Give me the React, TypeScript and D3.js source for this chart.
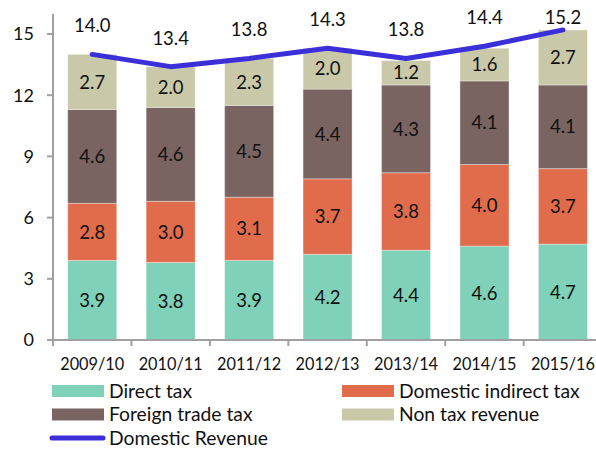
import React from "react";
import * as d3 from "d3";

const categories = ["2009/10", "2010/11", "2011/12", "2012/13", "2013/14", "2014/15", "2015/16"];
const directTax = [3.9, 3.8, 3.9, 4.2, 4.4, 4.6, 4.7];
const domesticIndirectTax = [2.8, 3.0, 3.1, 3.7, 3.8, 4.0, 3.7];
const foreignTradeTax = [4.6, 4.6, 4.5, 4.4, 4.3, 4.1, 4.1];
const nonTaxRevenue = [2.7, 2.0, 2.3, 2.0, 1.2, 1.6, 2.7];
const domesticRevenue = [14.0, 13.4, 13.8, 14.3, 13.8, 14.4, 15.2];
const yTicks = [0, 3, 6, 9, 12, 15];

const seriesNames = ["Direct tax", "Domestic indirect tax", "Foreign trade tax", "Non tax revenue"];
const seriesColors = ["#7fd1b9", "#e06c4c", "#7a6462", "#c9c9aa"];
const lineName = "Domestic Revenue";
const lineColor = "#3a2fd8";

const W = 596;
const H = 451;
const FONT = "Lato, 'Open Sans', sans-serif";

export default function App() {
  const x = d3.scaleBand<string>().domain(categories).range([53, 53 + 78.45 * 7]).paddingInner(0.375).paddingOuter(0.1875);
  const y = d3.scaleLinear().domain([0, 15]).range([340, 34]);

  const rows = categories.map((c, i) => ({
    cat: c,
    s0: directTax[i],
    s1: domesticIndirectTax[i],
    s2: foreignTradeTax[i],
    s3: nonTaxRevenue[i],
  }));
  const stack = d3.stack<any>().keys(["s0", "s1", "s2", "s3"]);
  const layers = stack(rows);

  const line = d3
    .line<number>()
    .x((_, i) => (x(categories[i]) as number) + x.bandwidth() / 2)
    .y((d) => y(d));

  const step = x.step();
  const boundaries = d3.range(categories.length + 1).map((i) => 53 + i * step);

  return (
    <svg width={W} height={H} style={{ position: "absolute", left: 0, top: 0, background: "#fff" }} fontFamily={FONT}>
      {/* bars */}
      {layers.map((layer, li) => (
        <g key={li}>
          {layer.map((d, i) => (
            <rect
              key={i}
              x={x(categories[i])}
              y={y(d[1])}
              width={x.bandwidth()}
              height={y(d[0]) - y(d[1])}
              fill={seriesColors[li]}
              stroke="#ffffff"
              strokeOpacity={0.35}
              strokeWidth={1}
            />
          ))}
        </g>
      ))}
      {/* segment labels */}
      {layers.map((layer, li) => (
        <g key={"l" + li}>
          {layer.map((d, i) => (
            <text
              key={i}
              x={(x(categories[i]) as number) + x.bandwidth() / 2}
              y={(y(d[0]) + y(d[1])) / 2}
              dy="0.36em"
              textAnchor="middle"
              fontSize={18.5}
              fill="#111"
            >
              {(d[1] - d[0]).toFixed(1)}
            </text>
          ))}
        </g>
      ))}
      {/* axes */}
      <line x1={53} x2={53} y1={14} y2={341} stroke="#a0a0a0" strokeWidth={2} />
      <line x1={52} x2={W} y1={340} y2={340} stroke="#a0a0a0" strokeWidth={2} />
      {yTicks.map((t) => (
        <g key={t}>
          <line x1={47} x2={53} y1={y(t)} y2={y(t)} stroke="#a0a0a0" strokeWidth={2} />
          <text x={34} y={y(t)} dy="0.36em" textAnchor="end" fontSize={18} fill="#111">
            {t}
          </text>
        </g>
      ))}
      {boundaries.map((b, i) => (
        <line key={i} x1={b} x2={b} y1={340} y2={346} stroke="#a0a0a0" strokeWidth={2} />
      ))}
      {categories.map((c) => (
        <text key={c} x={(x(c) as number) + x.bandwidth() / 2} y={370} textAnchor="middle" fontSize={16.3} fill="#111">
          {c}
        </text>
      ))}
      {/* line */}
      <path d={line(domesticRevenue) || ""} fill="none" stroke={lineColor} strokeWidth={5} strokeLinejoin="round" strokeLinecap="round" />
      {domesticRevenue.map((v, i) => (
        <text
          key={i}
          x={(x(categories[i]) as number) + x.bandwidth() / 2}
          y={Math.max(y(v) - 22, 24)}
          textAnchor="middle"
          fontSize={18.5}
          fill="#111"
        >
          {v.toFixed(1)}
        </text>
      ))}
      {/* legend */}
      {seriesNames.map((n, i) => {
        const col = i % 2;
        const row = Math.floor(i / 2);
        const sx = col === 0 ? 52 : 342;
        const cy = 391 + row * 23.5;
        return (
          <g key={n}>
            <rect x={sx} y={cy - 6} width={52} height={12} fill={seriesColors[i]} />
            <text x={sx + 57} y={cy} dy="0.36em" fontSize={19.3} fill="#111">
              {n}
            </text>
          </g>
        );
      })}
      <line x1={52} x2={103} y1={438} y2={438} stroke={lineColor} strokeWidth={5} strokeLinecap="round" />
      <text x={109} y={438} dy="0.36em" fontSize={19.3} fill="#111">
        {lineName}
      </text>
    </svg>
  );
}
